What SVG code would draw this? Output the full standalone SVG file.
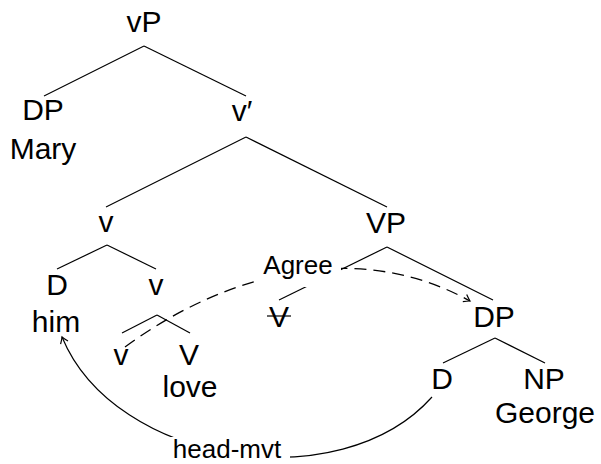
<svg xmlns="http://www.w3.org/2000/svg" width="601" height="464" viewBox="0 0 601 464">
  <style>
    text { font-family: "Liberation Sans", Arial, sans-serif; fill: #000; }
    .cat { font-size: 30px; text-anchor: middle; }
    .lbl { font-size: 26px; text-anchor: middle; }
    .edge { stroke: #000; stroke-width: 1.2; fill: none; }
    .dash { stroke: #000; stroke-width: 1.3; fill: none; stroke-dasharray: 12 7; }
    .bg { fill: #fff; stroke: none; }
  </style>
  <defs>
    <marker id="arrow" markerUnits="userSpaceOnUse" markerWidth="14" markerHeight="14" refX="0" refY="0" viewBox="-8 -7 10 14" orient="auto">
      <path d="M -6,-4 Q -2,-1 0,0 Q -2,1 -6,4" fill="none" stroke="#000" stroke-width="1.2"/>
    </marker>
  </defs>

  <!-- tree edges and movement arrows -->
  <g id="connectors">
    <line class="edge" x1="144" y1="46" x2="44" y2="96"/>
    <line class="edge" x1="144" y1="46" x2="246" y2="96"/>
    <line class="edge" x1="246" y1="137" x2="106" y2="207"/>
    <line class="edge" x1="246" y1="137" x2="387" y2="207"/>
    <line class="edge" x1="107" y1="245" x2="57" y2="269"/>
    <line class="edge" x1="107" y1="245" x2="156" y2="269"/>
    <line class="edge" x1="157" y1="315" x2="122" y2="333"/>
    <line class="edge" x1="157" y1="315" x2="190" y2="333"/>
    <line class="edge" x1="387" y1="247" x2="279" y2="300"/>
    <line class="edge" x1="387" y1="247" x2="493" y2="300"/>
    <line class="edge" x1="495" y1="338" x2="443" y2="363"/>
    <line class="edge" x1="495" y1="338" x2="545" y2="363"/>

    <!-- Agree: v to object DP -->
    <path class="dash" d="M 125,347 C 230,270 360,240 470,301" marker-end="url(#arrow)"/>
    <rect class="bg" x="257" y="251" width="84" height="36"/>
    <text class="lbl" x="298" y="274">Agree</text>

    <!-- head movement: D to v -->
    <path class="edge" d="M 432,397 C 340,500 115,465 62,337" marker-end="url(#arrow)"/>
    <rect class="bg" x="163" y="437" width="127" height="27"/>
    <text class="lbl" x="227" y="458">head-mvt</text>
  </g>

  <g id="node-vP"><text class="cat" x="144" y="32">vP</text></g>
  <g id="node-DP-subj">
    <text class="cat" x="43" y="120">DP</text>
    <text class="cat" x="43" y="159">Mary</text>
  </g>
  <g id="node-vbar"><text class="cat" x="242" y="121">v′</text></g>
  <g id="node-v-head"><text class="cat" x="106" y="232">v</text></g>
  <g id="node-VP"><text class="cat" x="386" y="233">VP</text></g>
  <g id="node-D-him">
    <text class="cat" x="57" y="295">D</text>
    <text class="cat" x="56" y="332">him</text>
  </g>
  <g id="node-v-inner"><text class="cat" x="156" y="295">v</text></g>
  <g id="node-v-low"><text class="cat" x="121" y="365">v</text></g>
  <g id="node-V-love">
    <text class="cat" x="189" y="365">V</text>
    <text class="cat" x="190" y="397">love</text>
  </g>
  <g id="node-V-trace">
    <text class="cat" x="279" y="327">V</text>
    <line class="edge" x1="267" y1="316" x2="291" y2="316"/>
  </g>
  <g id="node-DP-obj"><text class="cat" x="494" y="327">DP</text></g>
  <g id="node-D-obj"><text class="cat" x="442" y="389">D</text></g>
  <g id="node-NP">
    <text class="cat" x="544" y="389">NP</text>
    <text class="cat" x="545" y="423">George</text>
  </g>
</svg>
